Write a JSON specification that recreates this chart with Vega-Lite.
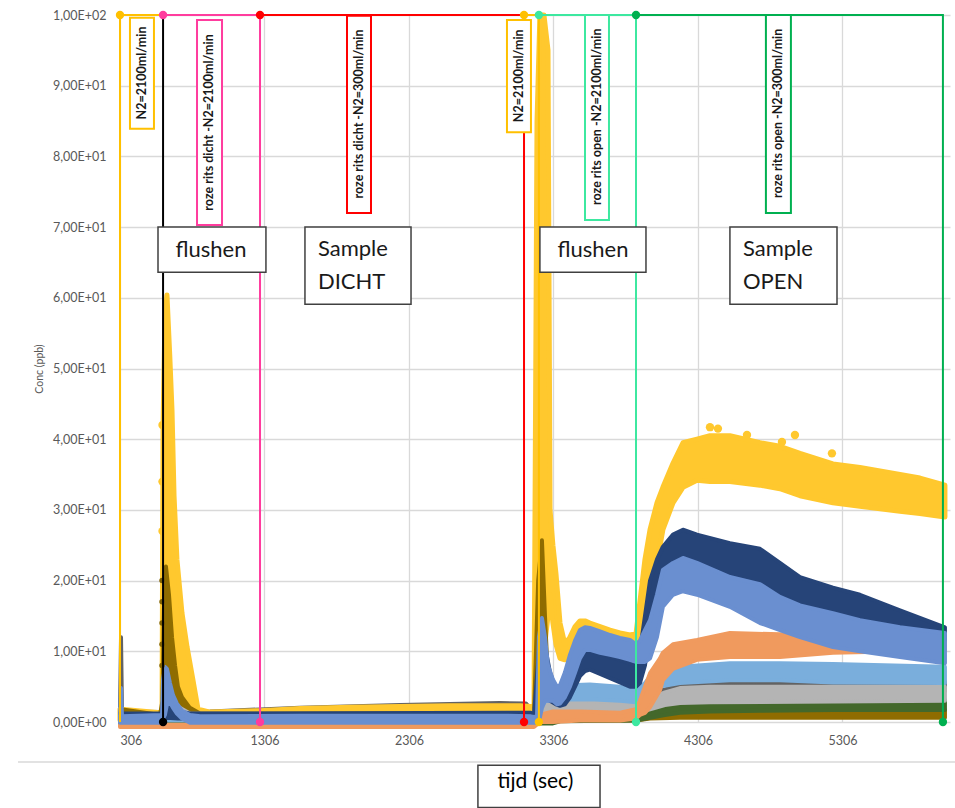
{
  "$schema": "https://vega.github.io/schema/vega-lite/v6.json",
  "width": 830,
  "height": 707,
  "autosize": "none",
  "padding": {"left": 120, "top": 15, "right": 5, "bottom": 86},
  "background": "white",
  "config": {"view": {"stroke": null}, "font": "Lato", "text": {"font": "Lato"}},
  "datasets": {
    "series": [
      {"s":"geel","t":306,"lo":0.3,"hi":1.8},{"s":"geel","t":313,"lo":0.3,"hi":1.8},{"s":"geel","t":583,"lo":0.3,"hi":1.3},{"s":"geel","t":597,"lo":0.3,"hi":1.5},
      {"s":"geel","t":604,"lo":0.5,"hi":42},{"s":"geel","t":617,"lo":0.5,"hi":57},{"s":"geel","t":631,"lo":0.5,"hi":60.4},{"s":"geel","t":650,"lo":0.5,"hi":52},{"s":"geel","t":666,"lo":0.5,"hi":44},{"s":"geel","t":680,"lo":0.5,"hi":32},
      {"s":"geel","t":700,"lo":0.5,"hi":23},{"s":"geel","t":735,"lo":0.5,"hi":15.4},{"s":"geel","t":770,"lo":0.5,"hi":10.6},{"s":"geel","t":811,"lo":0.5,"hi":5.9},
      {"s":"geel","t":846,"lo":0.8,"hi":1.8},{"s":"geel","t":929,"lo":0.8,"hi":1.4},{"s":"geel","t":1275,"lo":0.9,"hi":1.6},{"s":"geel","t":1552,"lo":1.0,"hi":1.9},
      {"s":"geel","t":1898,"lo":1.1,"hi":2.1},{"s":"geel","t":2244,"lo":1.2,"hi":2.2},{"s":"geel","t":2590,"lo":1.2,"hi":2.3},{"s":"geel","t":2936,"lo":1.2,"hi":2.3},
      {"s":"geel","t":3074,"lo":1.2,"hi":2.3},{"s":"geel","t":3150,"lo":1.0,"hi":2.2},{"s":"geel","t":3171,"lo":0.5,"hi":1.2},{"s":"geel","t":3192,"lo":1,"hi":85},
      {"s":"geel","t":3212,"lo":5,"hi":100},{"s":"geel","t":3240,"lo":10,"hi":100},{"s":"geel","t":3268,"lo":15,"hi":95},{"s":"geel","t":3282,"lo":18,"hi":30},
      {"s":"geel","t":3302,"lo":14,"hi":25},{"s":"geel","t":3323,"lo":11,"hi":21},{"s":"geel","t":3351,"lo":9,"hi":14},{"s":"geel","t":3385,"lo":8.8,"hi":11},
      {"s":"geel","t":3420,"lo":9.5,"hi":12},{"s":"geel","t":3455,"lo":10.5,"hi":13.5},{"s":"geel","t":3489,"lo":11.5,"hi":14.3},{"s":"geel","t":3524,"lo":11.8,"hi":14.3},
      {"s":"geel","t":3558,"lo":11.5,"hi":14.0},{"s":"geel","t":3628,"lo":11,"hi":13.5},{"s":"geel","t":3697,"lo":10.5,"hi":13},{"s":"geel","t":3766,"lo":10,"hi":12.6},
      {"s":"geel","t":3835,"lo":9.5,"hi":12.3},{"s":"geel","t":3877,"lo":9,"hi":12.5},{"s":"geel","t":3904,"lo":10,"hi":17},{"s":"geel","t":3939,"lo":11,"hi":23},
      {"s":"geel","t":3974,"lo":14.4,"hi":27.2},{"s":"geel","t":4022,"lo":22.5,"hi":31},{"s":"geel","t":4063,"lo":27.2,"hi":33.2},{"s":"geel","t":4133,"lo":31,"hi":36.6},
      {"s":"geel","t":4202,"lo":33.2,"hi":39.5},{"s":"geel","t":4299,"lo":34.2,"hi":40},{"s":"geel","t":4389,"lo":34,"hi":40.5},{"s":"geel","t":4527,"lo":34,"hi":40.5},
      {"s":"geel","t":4735,"lo":33.5,"hi":39.5},{"s":"geel","t":4873,"lo":33,"hi":39},{"s":"geel","t":5012,"lo":32,"hi":38},{"s":"geel","t":5240,"lo":31,"hi":36.5},
      {"s":"geel","t":5427,"lo":30.5,"hi":36},{"s":"geel","t":5704,"lo":29.8,"hi":35},{"s":"geel","t":5842,"lo":29.5,"hi":34.5},{"s":"geel","t":6015,"lo":29,"hi":33.5},

      {"s":"donkergoud","t":306,"lo":0.5,"hi":1.0},{"s":"donkergoud","t":313,"lo":0.5,"hi":1.8},{"s":"donkergoud","t":583,"lo":0.3,"hi":1.0},{"s":"donkergoud","t":600,"lo":0.5,"hi":3},
      {"s":"donkergoud","t":610,"lo":1,"hi":16},{"s":"donkergoud","t":624,"lo":2,"hi":22},{"s":"donkergoud","t":645,"lo":3,"hi":18},{"s":"donkergoud","t":666,"lo":3,"hi":12},
      {"s":"donkergoud","t":687,"lo":2.5,"hi":8},{"s":"donkergoud","t":707,"lo":2,"hi":5},{"s":"donkergoud","t":735,"lo":1.5,"hi":3.5},{"s":"donkergoud","t":790,"lo":0.8,"hi":2},
      {"s":"donkergoud","t":860,"lo":0.5,"hi":1.2},{"s":"donkergoud","t":3150,"lo":0.5,"hi":1.2},{"s":"donkergoud","t":3171,"lo":0.3,"hi":1},{"s":"donkergoud","t":3200,"lo":2,"hi":20},
      {"s":"donkergoud","t":3226,"lo":4,"hi":25.7},{"s":"donkergoud","t":3247,"lo":3,"hi":15},{"s":"donkergoud","t":3268,"lo":2,"hi":6},{"s":"donkergoud","t":3302,"lo":0.5,"hi":2.5},
      {"s":"donkergoud","t":3351,"lo":0.2,"hi":1.0},{"s":"donkergoud","t":3877,"lo":0.2,"hi":1.0},{"s":"donkergoud","t":3974,"lo":0.5,"hi":1.0},{"s":"donkergoud","t":4181,"lo":0.6,"hi":1.4},
      {"s":"donkergoud","t":4527,"lo":0.6,"hi":1.6},{"s":"donkergoud","t":6015,"lo":0.6,"hi":1.7},

      {"s":"donkergroen","t":306,"lo":-0.2,"hi":0.4},{"s":"donkergroen","t":3302,"lo":-0.2,"hi":0.4},{"s":"donkergroen","t":3351,"lo":0.1,"hi":0.8},{"s":"donkergroen","t":3877,"lo":0.2,"hi":0.8},
      {"s":"donkergroen","t":3904,"lo":0.3,"hi":1.0},{"s":"donkergroen","t":3974,"lo":0.6,"hi":1.6},{"s":"donkergroen","t":4077,"lo":1.0,"hi":2.2},{"s":"donkergroen","t":4181,"lo":1.3,"hi":2.6},
      {"s":"donkergroen","t":4389,"lo":1.5,"hi":2.9},{"s":"donkergroen","t":4735,"lo":1.6,"hi":3.0},{"s":"donkergroen","t":5240,"lo":1.7,"hi":3.1},{"s":"donkergroen","t":6015,"lo":1.7,"hi":3.1},

      {"s":"donkergrijs","t":306,"lo":0.8,"hi":1.5},{"s":"donkergrijs","t":313,"lo":0.8,"hi":12},{"s":"donkergrijs","t":320,"lo":0.8,"hi":1.5},{"s":"donkergrijs","t":583,"lo":0.8,"hi":1.4},
      {"s":"donkergrijs","t":929,"lo":1.0,"hi":1.5},{"s":"donkergrijs","t":1552,"lo":1.4,"hi":2.0},{"s":"donkergrijs","t":2244,"lo":1.8,"hi":2.4},{"s":"donkergrijs","t":2936,"lo":2.1,"hi":2.7},
      {"s":"donkergrijs","t":3116,"lo":2.0,"hi":2.6},{"s":"donkergrijs","t":3171,"lo":0.5,"hi":1.2},{"s":"donkergrijs","t":3212,"lo":1,"hi":6},{"s":"donkergrijs","t":3254,"lo":2,"hi":4},
      {"s":"donkergrijs","t":3302,"lo":2.5,"hi":3.5},{"s":"donkergrijs","t":3489,"lo":3,"hi":4.5},{"s":"donkergrijs","t":3700,"lo":2.8,"hi":4.0},{"s":"donkergrijs","t":3877,"lo":2.5,"hi":3.5},
      {"s":"donkergrijs","t":3974,"lo":2.6,"hi":4.0},{"s":"donkergrijs","t":4077,"lo":3.3,"hi":4.6},{"s":"donkergrijs","t":4181,"lo":3.8,"hi":5.2},{"s":"donkergrijs","t":4389,"lo":4.2,"hi":5.6},
      {"s":"donkergrijs","t":4735,"lo":4.4,"hi":5.7},{"s":"donkergrijs","t":6015,"lo":4.4,"hi":5.7},

      {"s":"lichtgrijs","t":306,"lo":0.3,"hi":1.0},{"s":"lichtgrijs","t":597,"lo":0.3,"hi":1.0},{"s":"lichtgrijs","t":617,"lo":0.5,"hi":2},{"s":"lichtgrijs","t":645,"lo":0.5,"hi":3},
      {"s":"lichtgrijs","t":680,"lo":0.5,"hi":2.8},{"s":"lichtgrijs","t":720,"lo":0.5,"hi":2},{"s":"lichtgrijs","t":790,"lo":0.4,"hi":1.2},{"s":"lichtgrijs","t":3171,"lo":0.4,"hi":1.1},
      {"s":"lichtgrijs","t":3212,"lo":1,"hi":4},{"s":"lichtgrijs","t":3302,"lo":1.5,"hi":3},{"s":"lichtgrijs","t":3489,"lo":1.5,"hi":3},{"s":"lichtgrijs","t":3877,"lo":1.3,"hi":2.8},
      {"s":"lichtgrijs","t":3974,"lo":1.8,"hi":3.3},{"s":"lichtgrijs","t":4077,"lo":2.4,"hi":4.2},{"s":"lichtgrijs","t":4181,"lo":2.7,"hi":4.8},{"s":"lichtgrijs","t":4389,"lo":2.8,"hi":5.0},
      {"s":"lichtgrijs","t":6015,"lo":3.0,"hi":5.0},

      {"s":"lichtblauw","t":306,"lo":0.2,"hi":0.8},{"s":"lichtblauw","t":3171,"lo":0.2,"hi":0.8},{"s":"lichtblauw","t":3212,"lo":2,"hi":8},{"s":"lichtblauw","t":3254,"lo":3,"hi":6},
      {"s":"lichtblauw","t":3323,"lo":3,"hi":5},{"s":"lichtblauw","t":3420,"lo":3.2,"hi":5.2},{"s":"lichtblauw","t":3558,"lo":3.2,"hi":5.3},{"s":"lichtblauw","t":3766,"lo":3.0,"hi":5.0},
      {"s":"lichtblauw","t":3877,"lo":2.8,"hi":4.5},{"s":"lichtblauw","t":3939,"lo":3.5,"hi":5.5},{"s":"lichtblauw","t":3974,"lo":4.1,"hi":6.4},{"s":"lichtblauw","t":4043,"lo":5.0,"hi":7.2},
      {"s":"lichtblauw","t":4181,"lo":5.5,"hi":7.8},{"s":"lichtblauw","t":4527,"lo":5.9,"hi":8.3},{"s":"lichtblauw","t":4873,"lo":5.9,"hi":8.3},{"s":"lichtblauw","t":5240,"lo":5.6,"hi":8.2},
      {"s":"lichtblauw","t":6015,"lo":5.5,"hi":7.8},

      {"s":"oranje","t":306,"lo":-0.7,"hi":-0.4},{"s":"oranje","t":3171,"lo":-0.7,"hi":-0.4},{"s":"oranje","t":3212,"lo":0,"hi":1},{"s":"oranje","t":3302,"lo":0,"hi":1.5},
      {"s":"oranje","t":3489,"lo":0.2,"hi":1.5},{"s":"oranje","t":3766,"lo":0.2,"hi":1.3},{"s":"oranje","t":3877,"lo":0.5,"hi":1.8},{"s":"oranje","t":3904,"lo":1,"hi":3},
      {"s":"oranje","t":3939,"lo":1.3,"hi":5},{"s":"oranje","t":3974,"lo":2.1,"hi":6.9},{"s":"oranje","t":4043,"lo":4.5,"hi":9},{"s":"oranje","t":4063,"lo":5.9,"hi":9.8},
      {"s":"oranje","t":4133,"lo":7.5,"hi":11},{"s":"oranje","t":4299,"lo":8.8,"hi":11.6},{"s":"oranje","t":4527,"lo":9.2,"hi":12.6},{"s":"oranje","t":4873,"lo":9.2,"hi":12.4},
      {"s":"oranje","t":5240,"lo":9.8,"hi":12.3},{"s":"oranje","t":5704,"lo":10,"hi":12.5},{"s":"oranje","t":6015,"lo":10.2,"hi":12.6},

      {"s":"donkerblauw","t":306,"lo":0.5,"hi":1.2},{"s":"donkerblauw","t":597,"lo":0.5,"hi":1.2},{"s":"donkerblauw","t":604,"lo":0.5,"hi":3},{"s":"donkerblauw","t":631,"lo":0.6,"hi":2.5},
      {"s":"donkerblauw","t":707,"lo":0.5,"hi":1.5},{"s":"donkerblauw","t":790,"lo":0.5,"hi":1.2},{"s":"donkerblauw","t":3150,"lo":0.5,"hi":1.3},{"s":"donkerblauw","t":3171,"lo":0.3,"hi":1.0},
      {"s":"donkerblauw","t":3205,"lo":1,"hi":10},{"s":"donkerblauw","t":3226,"lo":4,"hi":13},{"s":"donkerblauw","t":3254,"lo":4,"hi":10},{"s":"donkerblauw","t":3282,"lo":3,"hi":7},
      {"s":"donkerblauw","t":3323,"lo":2.5,"hi":4.5},{"s":"donkerblauw","t":3351,"lo":2.3,"hi":4.3},{"s":"donkerblauw","t":3385,"lo":2.5,"hi":5},{"s":"donkerblauw","t":3420,"lo":3.5,"hi":6.5},
      {"s":"donkerblauw","t":3455,"lo":5,"hi":8.5},{"s":"donkerblauw","t":3489,"lo":6.5,"hi":9.8},{"s":"donkerblauw","t":3524,"lo":7.2,"hi":10.2},{"s":"donkerblauw","t":3558,"lo":7.4,"hi":10.2},
      {"s":"donkerblauw","t":3628,"lo":6.8,"hi":9.8},{"s":"donkerblauw","t":3697,"lo":6.2,"hi":9.2},{"s":"donkerblauw","t":3766,"lo":5.6,"hi":8.8},{"s":"donkerblauw","t":3835,"lo":5.0,"hi":8.3},
      {"s":"donkerblauw","t":3877,"lo":5.0,"hi":8.0},{"s":"donkerblauw","t":3904,"lo":5.5,"hi":10},{"s":"donkerblauw","t":3939,"lo":8,"hi":15},{"s":"donkerblauw","t":3974,"lo":13,"hi":20},
      {"s":"donkerblauw","t":4022,"lo":17,"hi":23},{"s":"donkerblauw","t":4063,"lo":20.5,"hi":24.8},{"s":"donkerblauw","t":4133,"lo":22,"hi":26.5},{"s":"donkerblauw","t":4202,"lo":22.9,"hi":27.2},
      {"s":"donkerblauw","t":4299,"lo":22,"hi":26.5},{"s":"donkerblauw","t":4527,"lo":20.5,"hi":25.3},{"s":"donkerblauw","t":4735,"lo":19.5,"hi":24.5},{"s":"donkerblauw","t":4873,"lo":18,"hi":22.5},
      {"s":"donkerblauw","t":5012,"lo":16.5,"hi":20.5},{"s":"donkerblauw","t":5240,"lo":14.9,"hi":19},{"s":"donkerblauw","t":5427,"lo":14,"hi":18},{"s":"donkerblauw","t":5704,"lo":12.6,"hi":15.8},
      {"s":"donkerblauw","t":6015,"lo":11.6,"hi":13.4},

      {"s":"blauw","t":306,"lo":-0.1,"hi":0.8},{"s":"blauw","t":313,"lo":-0.1,"hi":4.8},{"s":"blauw","t":320,"lo":-0.1,"hi":0.8},{"s":"blauw","t":597,"lo":-0.1,"hi":1.0},
      {"s":"blauw","t":604,"lo":0.5,"hi":6},{"s":"blauw","t":617,"lo":1,"hi":7.8},{"s":"blauw","t":631,"lo":2.5,"hi":7.5},{"s":"blauw","t":652,"lo":2.8,"hi":5.5},
      {"s":"blauw","t":673,"lo":2.0,"hi":3.8},{"s":"blauw","t":700,"lo":1.2,"hi":2.6},{"s":"blauw","t":735,"lo":0.5,"hi":1.6},{"s":"blauw","t":790,"lo":-0.1,"hi":1.0},
      {"s":"blauw","t":860,"lo":-0.1,"hi":0.8},{"s":"blauw","t":1552,"lo":-0.1,"hi":0.9},{"s":"blauw","t":2936,"lo":-0.1,"hi":0.9},{"s":"blauw","t":3150,"lo":-0.1,"hi":0.8},
      {"s":"blauw","t":3171,"lo":-0.1,"hi":0.7},{"s":"blauw","t":3192,"lo":-0.1,"hi":0.8},{"s":"blauw","t":3205,"lo":0,"hi":12},{"s":"blauw","t":3226,"lo":2,"hi":14.7},
      {"s":"blauw","t":3247,"lo":3,"hi":12},{"s":"blauw","t":3268,"lo":3,"hi":8},{"s":"blauw","t":3302,"lo":3,"hi":6},{"s":"blauw","t":3330,"lo":2.5,"hi":5},
      {"s":"blauw","t":3351,"lo":2.6,"hi":5.2},{"s":"blauw","t":3385,"lo":3.5,"hi":7},{"s":"blauw","t":3420,"lo":5,"hi":9.5},{"s":"blauw","t":3455,"lo":7,"hi":11.5},
      {"s":"blauw","t":3489,"lo":9,"hi":13},{"s":"blauw","t":3524,"lo":10.2,"hi":13.4},{"s":"blauw","t":3558,"lo":10.2,"hi":13.3},{"s":"blauw","t":3628,"lo":9.8,"hi":12.8},
      {"s":"blauw","t":3697,"lo":9.5,"hi":12.3},{"s":"blauw","t":3766,"lo":9.2,"hi":11.9},{"s":"blauw","t":3835,"lo":8.8,"hi":11.6},{"s":"blauw","t":3877,"lo":8.5,"hi":11.0},
      {"s":"blauw","t":3904,"lo":8.5,"hi":11.5},{"s":"blauw","t":3939,"lo":8.5,"hi":13},{"s":"blauw","t":3974,"lo":9,"hi":14.4},{"s":"blauw","t":4022,"lo":12,"hi":18},
      {"s":"blauw","t":4063,"lo":16.3,"hi":21.5},{"s":"blauw","t":4133,"lo":18,"hi":22.5},{"s":"blauw","t":4202,"lo":18.5,"hi":23.2},{"s":"blauw","t":4299,"lo":18,"hi":22.5},
      {"s":"blauw","t":4527,"lo":16.3,"hi":20.5},{"s":"blauw","t":4735,"lo":14,"hi":19.5},{"s":"blauw","t":4873,"lo":13,"hi":17.7},{"s":"blauw","t":5012,"lo":12,"hi":16.5},
      {"s":"blauw","t":5240,"lo":10.6,"hi":15.4},{"s":"blauw","t":5427,"lo":10,"hi":14.4},{"s":"blauw","t":5704,"lo":9.2,"hi":13.4},{"s":"blauw","t":6015,"lo":8.3,"hi":12.6}
    ],
    "punten": [
      {"s":"geel","t":4389,"c":41.7},{"s":"geel","t":4444,"c":41.5},{"s":"geel","t":4645,"c":40.6},{"s":"geel","t":4887,"c":39.6},{"s":"geel","t":4977,"c":40.6},{"s":"geel","t":5233,"c":38},
      {"s":"geel","t":600,"c":42},{"s":"geel","t":600,"c":34},{"s":"geel","t":600,"c":27},
      {"s":"donkergoud","t":597,"c":8},{"s":"donkergoud","t":597,"c":11},{"s":"donkergoud","t":597,"c":14},{"s":"donkergoud","t":597,"c":17},{"s":"donkergoud","t":597,"c":20}
    ],
    "stappen": [
      {"stap":"n2a","t":306,"c":0,"i":0},{"stap":"n2a","t":306,"c":100,"i":1},{"stap":"n2a","t":604,"c":100,"i":2},
      {"stap":"flush1","t":604,"c":100,"i":0},{"stap":"flush1","t":604,"c":0,"i":1},
      {"stap":"dicht2100","t":604,"c":100,"i":0},{"stap":"dicht2100","t":1275,"c":100,"i":1},{"stap":"dicht2100","t":1275,"c":0,"i":2},
      {"stap":"dicht300","t":1275,"c":100,"i":0},{"stap":"dicht300","t":3102,"c":100,"i":1},{"stap":"dicht300","t":3102,"c":0,"i":2},
      {"stap":"n2b","t":3102,"c":100,"i":0},{"stap":"n2b","t":3205,"c":100,"i":1},{"stap":"n2b","t":3205,"c":0,"i":2},
      {"stap":"open2100","t":3205,"c":100,"i":0},{"stap":"open2100","t":3877,"c":100,"i":1},{"stap":"open2100","t":3877,"c":0,"i":2},
      {"stap":"open300","t":3877,"c":100,"i":0},{"stap":"open300","t":6001,"c":100,"i":1},{"stap":"open300","t":6001,"c":0,"i":2}
    ],
    "knopen": [
      {"stap":"n2a","t":306,"c":100},{"stap":"flush1","t":604,"c":0},{"stap":"dicht2100","t":604,"c":100},{"stap":"dicht2100","t":1275,"c":0},
      {"stap":"dicht300","t":1275,"c":100},{"stap":"dicht300","t":3102,"c":0},{"stap":"n2b","t":3102,"c":100},{"stap":"n2b","t":3205,"c":0},
      {"stap":"open2100","t":3205,"c":100},{"stap":"open2100","t":3877,"c":0},{"stap":"open300","t":3877,"c":100},{"stap":"open300","t":6001,"c":0}
    ],
    "labels": [
      {"stap":"n2a","tekst":"N2=2100ml/min","t":458,"c":91.8,"t1":375,"t2":541,"c1":99.6,"c2":83.9},
      {"stap":"dicht2100","tekst":"roze rits dicht -N2=2100ml/min","t":925,"c":84.8,"t1":839,"t2":1012,"c1":99.3,"c2":70.3},
      {"stap":"dicht300","tekst":"roze rits dicht -N2=300ml/min","t":1960,"c":86.0,"t1":1877,"t2":2043,"c1":99.9,"c2":72.0},
      {"stap":"n2b","tekst":"N2=2100ml/min","t":3067,"c":91.4,"t1":2984,"t2":3150,"c1":99.3,"c2":83.4},
      {"stap":"open2100","tekst":"roze rits open -N2=2100ml/min","t":3607,"c":85.6,"t1":3524,"t2":3690,"c1":100,"c2":71.0},
      {"stap":"open300","tekst":"roze rits open -N2=300ml/min","t":4862,"c":86.1,"t1":4776,"t2":4949,"c1":100,"c2":72.0}
    ],
    "fasen": [
      {"fase":"flushen1","tekst":"flushen","t":936,"c":66.8,"t1":569,"t2":1316,"c1":70.0,"c2":63.6,"uitlijning":"center"},
      {"fase":"dicht","tekst":["Sample","DICHT"],"t":1676,"c":66.9,"t1":1586,"t2":2320,"c1":70.0,"c2":59.1,"uitlijning":"left"},
      {"fase":"flushen2","tekst":"flushen","t":3579,"c":66.8,"t1":3212,"t2":3946,"c1":70.0,"c2":63.6,"uitlijning":"center"},
      {"fase":"open","tekst":["Sample","OPEN"],"t":4617,"c":66.9,"t1":4527,"t2":5268,"c1":70.0,"c2":59.1,"uitlijning":"left"}
    ]
  },
  "layer": [
    {
      "data": {"name": "series"},
      "encoding": {
        "x": {"field": "t", "type": "quantitative",
              "scale": {"domain": [306, 6050], "nice": false, "zero": false},
              "axis": {"values": [306, 1306, 2306, 3306, 4306, 5306], "format": "d", "grid": true, "gridColor": "#d9d9d9", "gridWidth": 1.3,
                       "domain": false, "ticks": false, "labelColor": "#595959", "labelFontSize": 12.5, "labelPadding": 12, "labelFont": "Lato",
                       "title": "tijd (sec)", "titleFont": "Lato", "titleFontSize": 21, "titleFontWeight": "normal", "titleColor": "#000000", "titlePadding": 24}},
        "y": {"field": "lo", "type": "quantitative",
              "scale": {"domain": [0, 100], "nice": false, "zero": false},
              "axis": {"values": [0, 10, 20, 30, 40, 50, 60, 70, 80, 90, 100], "grid": true, "gridColor": "#d9d9d9", "gridWidth": 1.3,
                       "domain": false, "ticks": false, "labelColor": "#595959", "labelFontSize": 12.5, "labelPadding": 14, "labelFont": "Lato",
                       "labelExpr": "datum.value == 0 ? '0,00E+00' : datum.value >= 100 ? '1,00E+02' : format(datum.value / 10, '.0f') + ',00E+01'",
                       "title": "Conc (ppb)", "titleFont": "Lato", "titleFontSize": 10.5, "titleFontWeight": "normal", "titleColor": "#595959", "titlePadding": 8}},
        "y2": {"field": "hi"}
      },
      "layer": [
        {"transform": [{"filter": "datum.s == 'donkergrijs'"}], "mark": {"type": "area", "color": "#636363", "stroke": "#636363", "strokeWidth": 4, "strokeJoin": "round"}},
        {"transform": [{"filter": "datum.s == 'geel'"}], "mark": {"type": "area", "color": "#ffc82e", "stroke": "#ffc82e", "strokeWidth": 5, "strokeJoin": "round"}},
        {"transform": [{"filter": "datum.s == 'donkergoud'"}], "mark": {"type": "area", "color": "#8f6c00", "stroke": "#8f6c00", "strokeWidth": 4, "strokeJoin": "round"}},
        {"transform": [{"filter": "datum.s == 'donkergroen'"}], "mark": {"type": "area", "color": "#43682b", "stroke": "#43682b", "strokeWidth": 4, "strokeJoin": "round"}},
        {"transform": [{"filter": "datum.s == 'lichtgrijs'"}], "mark": {"type": "area", "color": "#b4b4b4", "stroke": "#b4b4b4", "strokeWidth": 4, "strokeJoin": "round"}},
        {"transform": [{"filter": "datum.s == 'lichtblauw'"}], "mark": {"type": "area", "color": "#7aaedc", "stroke": "#7aaedc", "strokeWidth": 4, "strokeJoin": "round"}},
        {"transform": [{"filter": "datum.s == 'oranje'"}], "mark": {"type": "area", "color": "#f09a5e", "stroke": "#f09a5e", "strokeWidth": 4, "strokeJoin": "round"}},
        {"transform": [{"filter": "datum.s == 'donkerblauw'"}], "mark": {"type": "area", "color": "#264478", "stroke": "#264478", "strokeWidth": 4, "strokeJoin": "round"}},
        {"transform": [{"filter": "datum.s == 'blauw'"}], "mark": {"type": "area", "color": "#6a8fd0", "stroke": "#6a8fd0", "strokeWidth": 4, "strokeJoin": "round"}}
      ]
    },
    {
      "data": {"name": "punten"},
      "encoding": {
        "x": {"field": "t", "type": "quantitative"},
        "y": {"field": "c", "type": "quantitative"}
      },
      "layer": [
        {"transform": [{"filter": "datum.s == 'geel'"}], "mark": {"type": "circle", "color": "#ffc82e", "size": 70, "opacity": 1}},
        {"transform": [{"filter": "datum.s == 'donkergoud'"}], "mark": {"type": "circle", "color": "#7f6000", "size": 30, "opacity": 1}}
      ]
    },
    {
      "data": {"name": "stappen"},
      "mark": {"type": "line", "strokeWidth": 2},
      "encoding": {
        "x": {"field": "t", "type": "quantitative"},
        "y": {"field": "c", "type": "quantitative"},
        "color": {"field": "stap", "type": "nominal", "legend": null,
                  "scale": {"domain": ["n2a", "flush1", "dicht2100", "dicht300", "n2b", "open2100", "open300"],
                            "range": ["#ffc000", "#000000", "#ff3c9e", "#ff0000", "#ffc000", "#3de8a0", "#00b050"]}},
        "order": {"field": "i", "type": "quantitative"}
      }
    },
    {
      "data": {"name": "knopen"},
      "mark": {"type": "circle", "size": 70, "opacity": 1},
      "encoding": {
        "x": {"field": "t", "type": "quantitative"},
        "y": {"field": "c", "type": "quantitative"},
        "color": {"field": "stap", "type": "nominal", "legend": null}
      }
    },
    {
      "data": {"name": "labels"},
      "layer": [
        {
          "mark": {"type": "rect", "fill": "white", "strokeWidth": 2},
          "encoding": {
            "x": {"field": "t1", "type": "quantitative"},
            "x2": {"field": "t2"},
            "y": {"field": "c1", "type": "quantitative"},
            "y2": {"field": "c2"},
            "stroke": {"field": "stap", "type": "nominal", "legend": null,
                       "scale": {"domain": ["n2a", "flush1", "dicht2100", "dicht300", "n2b", "open2100", "open300"],
                                 "range": ["#ffc000", "#000000", "#ff3c9e", "#ff0000", "#ffc000", "#3de8a0", "#00b050"]}}
          }
        },
        {
          "mark": {"type": "text", "angle": 270, "align": "center", "baseline": "middle", "fontSize": 12.5, "fontWeight": "bold", "color": "#1a1a1a", "font": "Lato"},
          "encoding": {
            "x": {"field": "t", "type": "quantitative"},
            "y": {"field": "c", "type": "quantitative"},
            "text": {"field": "tekst"}
          }
        }
      ]
    },
    {
      "data": {"name": "fasen"},
      "layer": [
        {
          "mark": {"type": "rect", "fill": "white", "stroke": "#404040", "strokeWidth": 1.5},
          "encoding": {
            "x": {"field": "t1", "type": "quantitative"},
            "x2": {"field": "t2"},
            "y": {"field": "c1", "type": "quantitative"},
            "y2": {"field": "c2"}
          }
        },
        {
          "transform": [{"filter": "datum.uitlijning == 'center'"}],
          "mark": {"type": "text", "align": "center", "baseline": "middle", "fontSize": 22, "color": "#1a1a1a", "font": "Lato"},
          "encoding": {
            "x": {"field": "t", "type": "quantitative"},
            "y": {"field": "c", "type": "quantitative"},
            "text": {"field": "tekst"}
          }
        },
        {
          "transform": [{"filter": "datum.uitlijning == 'left'"}],
          "mark": {"type": "text", "align": "left", "baseline": "middle", "fontSize": 22, "lineHeight": 33, "color": "#1a1a1a", "font": "Lato"},
          "encoding": {
            "x": {"field": "t", "type": "quantitative"},
            "y": {"field": "c", "type": "quantitative"},
            "text": {"field": "tekst"}
          }
        }
      ]
    },
    {
      "data": {"values": [{"onderdeel": "scheiding", "t1": -400, "t2": 6090, "c": -5.66}]},
      "mark": {"type": "rule", "color": "#d9d9d9", "strokeWidth": 1.3},
      "encoding": {
        "x": {"field": "t1", "type": "quantitative"},
        "x2": {"field": "t2"},
        "y": {"field": "c", "type": "quantitative"}
      }
    },
    {
      "data": {"values": [{"onderdeel": "titelkader", "t1": 2783, "t2": 3628, "c1": -6.1, "c2": -12.1}]},
      "mark": {"type": "rect", "filled": false, "stroke": "#404040", "strokeWidth": 1.5},
      "encoding": {
        "x": {"field": "t1", "type": "quantitative"},
        "x2": {"field": "t2"},
        "y": {"field": "c1", "type": "quantitative"},
        "y2": {"field": "c2"}
      }
    }
  ]
}
